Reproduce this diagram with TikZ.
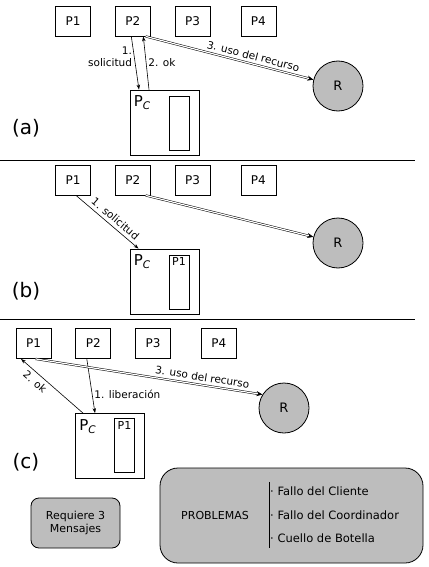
\documentclass[tikz,border=0pt]{standalone}
\usepackage{fontspec}
\setmainfont{DejaVu Sans}
\usepackage{xcolor}
\usepackage{tikz}
\usetikzlibrary{arrows.meta,positioning}
\definecolor{rgray}{HTML}{BDBDBD}

\begin{document}
\begin{tikzpicture}[
  x=1pt, y=-1pt,
  font=\fontsize{11}{13}\selectfont,
  proc/.style={draw, line width=0.8pt, minimum width=35pt, minimum height=30pt,
    inner sep=0pt, font=\fontsize{12}{14}\selectfont},
  coord/.style={draw, line width=0.8pt, minimum width=69pt, minimum height=65pt, inner sep=0pt},
  queue/.style={draw, line width=0.8pt, minimum width=20pt, minimum height=54pt,
    inner sep=0pt, anchor=north east},
  res/.style={circle, draw, fill=rgray, line width=0.8pt, minimum size=50pt,
    inner sep=0pt, font=\fontsize{13}{15}\selectfont},
  pclabel/.style={anchor=north west, inner sep=0pt, font=\fontsize{15}{17}\selectfont},
  qlabel/.style={anchor=north, inner sep=3pt, font=\fontsize{11}{13}\selectfont},
  tag/.style={font=\fontsize{20}{22}\selectfont},
  lbl/.style={font=\fontsize{10.5}{12}\selectfont, inner sep=2pt},
  slbl/.style={lbl, sloped, inner sep=3.5pt},
  arr/.style={-{Stealth[length=5pt, width=3.5pt]}, line width=0.6pt},
  dbl/.style={double, double distance=1.2pt, line width=0.5pt, -{Stealth[length=6pt, width=5pt]}},
  note/.style={draw, line width=0.8pt, fill=rgray, align=center},
]
\useasboundingbox (0,0) rectangle (428,567);

% (a)
\node[proc] (a1) at (73,21) {P1};
\node[proc, right=24pt of a1] (a2) {P2};
\node[proc, right=24pt of a2] (a3) {P3};
\node[proc, right=30pt of a3] (a4) {P4};
\node[coord] (ac) at (164.5,122.5) {};
\node[pclabel] (acp) at ([xshift=4pt, yshift=-6pt]ac.north west) {P\textsubscript{\textit{C}}};
\node[queue] (acq) at ([xshift=-10pt, yshift=-6pt]ac.north east) {};
\node[res] (ar) at (338,86) {R};
\node[tag] (ta) at (26,128) {(a)};
\draw[arr] ([xshift=-1.5pt]a2.south) -- node[lbl, left, align=right, pos=0.39] {1.\\solicitud} ([xshift=-25.5pt]ac.north);
\draw[arr] ([xshift=-15.5pt]ac.north) -- node[lbl, right, pos=0.5] {2. ok} ([xshift=10.5pt]a2.south);
\draw[dbl] ([xshift=-5pt]a2.south east) -- node[slbl, above, pos=0.63] {3. uso del recurso} (ar);

\draw[line width=0.8pt] (0,160) -- (415,160);

% (b)
\node[proc] (b1) at (73,180) {P1};
\node[proc, right=24pt of b1] (b2) {P2};
\node[proc, right=24pt of b2] (b3) {P3};
\node[proc, right=30pt of b3] (b4) {P4};
\node[coord] (bc) at (164.5,281.5) {};
\node[pclabel] (bcp) at ([xshift=4pt, yshift=-6pt]bc.north west) {P\textsubscript{\textit{C}}};
\node[queue] (bcq) at ([xshift=-10pt, yshift=-6pt]bc.north east) {};
\node[qlabel] (bcq1) at (bcq.north) {P1};
\node[res] (br) at (338,243) {R};
\node[tag] (tb) at (26,291) {(b)};
\draw[arr] ([xshift=3pt]b1.south) -- node[slbl, above, pos=0.55] {1. solicitud} ([xshift=-26pt]bc.north);
\draw[dbl] ([xshift=-5pt]b2.south east) -- (br);

\draw[line width=0.8pt] (0,319) -- (415,319);

% (c)
\node[proc] (c1) at (33.5,343.5) {P1};
\node[proc, right=24pt of c1] (c2) {P2};
\node[proc, right=24pt of c2] (c3) {P3};
\node[proc, right=30pt of c3] (c4) {P4};
\node[coord] (cc) at (110,446) {};
\node[pclabel] (ccp) at ([xshift=4pt, yshift=-6pt]cc.north west) {P\textsubscript{\textit{C}}};
\node[queue] (ccq) at ([xshift=-10pt, yshift=-5pt]cc.north east) {};
\node[qlabel] (ccq1) at (ccq.north) {P1};
\node[res] (cr) at (284,408) {R};
\node[tag] (tc) at (26,462) {(c)};
\draw[arr] ([xshift=-6.5pt]c2.south) -- node[lbl, right, pos=0.65] {1. liberación} ([xshift=-15pt]cc.north);
\draw[arr] ([xshift=-27pt]cc.north) -- node[slbl, below, pos=0.69] {2. ok} ([xshift=-12.5pt]c1.south);
\draw[dbl] ([xshift=2pt]c1.south) -- node[slbl, above, pos=0.73] {3. uso del recurso} (cr.148);

% notes
\node[note, rounded corners=8pt, minimum width=89pt, minimum height=50pt] (msg) at (75.5,523) {Requiere 3\\Mensajes};
\node[note, rounded corners=18pt, minimum width=263pt, minimum height=95pt] (prob) at (291.5,515.5) {};
\node (probt) at (215,515) {PROBLEMAS};
\node[anchor=west, align=left, inner xsep=1pt, inner ysep=5pt, font=\fontsize{11.5}{23.5}\selectfont] (probl) at (269,515)
  {· Fallo del Cliente\\· Fallo del Coordinador\\· Cuello de Botella};
\draw[line width=0.8pt] (probl.north west) -- (probl.south west);
\end{tikzpicture}
\end{document}
